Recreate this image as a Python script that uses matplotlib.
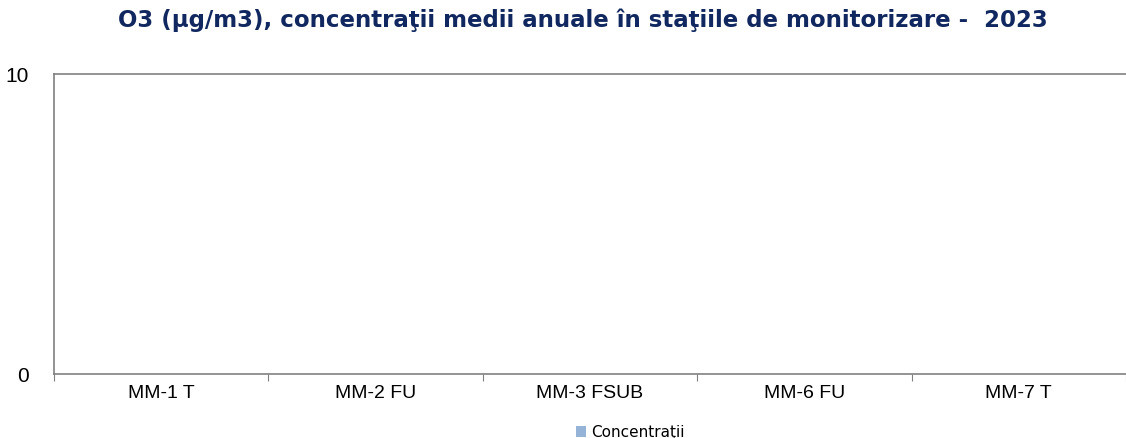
import matplotlib.pyplot as plt
import numpy as np

# date: statii si concentratii (fara valori in grafic)
statii = ["MM-1 T", "MM-2 FU", "MM-3 FSUB", "MM-6 FU", "MM-7 T"]
concentratii = [0, 0, 0, 0, 0]
y_ticks = [0, 10]

plt.rcParams['font.family'] = ['Liberation Sans', 'DejaVu Sans']

fig = plt.figure(figsize=(11.26, 4.38), dpi=100)
ax = fig.add_axes([54 / 1126, 1 - 374 / 438, (1126 - 54) / 1126, 300 / 438])

x = np.arange(len(statii))
ax.bar(x, concentratii, width=0.5, color='#95B3D7', label='Concentraţii')

ax.set_xlim(-0.5, len(statii) - 0.5)
ax.set_ylim(0, 10)
ax.set_yticks(y_ticks)
ax.set_yticklabels([str(v) for v in y_ticks], fontsize=15)
ax.tick_params(axis='y', length=0, pad=18)

# ticks intre categorii
ax.set_xticks(np.arange(-0.5, len(statii) + 0.5, 1))
ax.set_xticklabels([])
ax.set_xticks(x, minor=True)
ax.set_xticklabels(statii, minor=True, fontsize=14)
ax.tick_params(axis='x', which='major', length=5, color='#808080', direction='out')
ax.tick_params(axis='x', which='minor', length=0, pad=8)

for s in ['left', 'bottom', 'top']:
    ax.spines[s].set_color('#808080')
    ax.spines[s].set_linewidth(1.2)
ax.spines['right'].set_visible(False)

fig.suptitle("O3 (µg/m3), concentraţii medii anuale în staţiile de monitorizare -  2023",
             x=583 / 1126, y=1 - 20 / 438, va='center', fontsize=16.5, fontweight='bold',
             color='#10285F', family=['DejaVu Sans'])

fig.legend(loc='center', bbox_to_anchor=(630 / 1126, 1 - 432 / 438), frameon=False,
           prop={'family': ['DejaVu Sans'], 'size': 11},
           handlelength=0.7, handleheight=0.7, handletextpad=0.3)

fig.savefig("out.png", dpi=100)
